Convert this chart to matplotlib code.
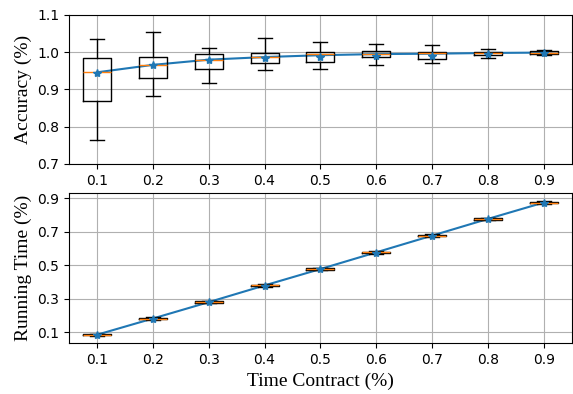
import matplotlib
matplotlib.use('Agg')
import matplotlib.pyplot as plt

# x categories (time contract)
labels = ['0.1', '0.2', '0.3', '0.4', '0.5', '0.6', '0.7', '0.8', '0.9']
pos = list(range(1, 10))

# accuracy box stats
acc_whislo = [0.764, 0.883, 0.918, 0.953, 0.955, 0.967, 0.971, 0.985, 0.993]
acc_q1 = [0.868, 0.931, 0.955, 0.970, 0.975, 0.986, 0.983, 0.993, 0.995]
acc_med = [0.946, 0.966, 0.980, 0.987, 0.994, 0.995, 0.997, 0.998, 0.999]
acc_q3 = [0.985, 0.988, 0.995, 0.998, 1.000, 1.002, 1.000, 1.001, 1.002]
acc_whishi = [1.036, 1.054, 1.010, 1.037, 1.027, 1.021, 1.019, 1.008, 1.005]
acc_mean = [0.945, 0.965, 0.978, 0.985, 0.986, 0.991, 0.991, 0.996, 0.998]
acc_line = [0.946, 0.966, 0.980, 0.987, 0.992, 0.995, 0.996, 0.998, 0.999]

# running time box stats
rt_med = [0.085, 0.182, 0.280, 0.380, 0.478, 0.578, 0.678, 0.778, 0.875]
rt_q1 = [0.081, 0.178, 0.276, 0.376, 0.474, 0.574, 0.674, 0.774, 0.871]
rt_q3 = [0.088, 0.186, 0.284, 0.384, 0.482, 0.582, 0.682, 0.782, 0.879]
rt_whislo = [0.077, 0.174, 0.272, 0.372, 0.470, 0.570, 0.670, 0.770, 0.867]
rt_whishi = [0.092, 0.190, 0.288, 0.388, 0.486, 0.586, 0.686, 0.786, 0.883]
rt_mean = [0.083, 0.180, 0.278, 0.378, 0.476, 0.576, 0.676, 0.776, 0.873]
rt_line = [0.085, 0.182, 0.280, 0.380, 0.478, 0.578, 0.678, 0.778, 0.876]


def make_stats(lo, q1, med, q3, hi, mean):
    return [dict(whislo=a, q1=b, med=c, q3=d, whishi=e, mean=f, fliers=[])
            for a, b, c, d, e, f in zip(lo, q1, med, q3, hi, mean)]


meanprops = dict(marker='*', markerfacecolor='C0', markeredgecolor='C0',
                 markersize=6)
label_font = dict(family='Liberation Serif', size=14)

fig = plt.figure(figsize=(5.73, 3.94), dpi=100)
ax1 = fig.add_axes([0.1204, 0.5838, 0.8776, 0.3782])
ax2 = fig.add_axes([0.1204, 0.1287, 0.8776, 0.3803])

ax1.bxp(make_stats(acc_whislo, acc_q1, acc_med, acc_q3, acc_whishi, acc_mean),
        positions=pos, showmeans=True, meanprops=meanprops)
ax1.plot(pos, acc_line, color='C0', zorder=1)
ax1.set_ylim(0.7, 1.1)
ax1.set_yticks([0.7, 0.8, 0.9, 1.0, 1.1])
ax1.set_xticks(pos)
ax1.set_xticklabels(labels)
ax1.set_xlim(0.5, 9.5)
ax1.grid(True)
ax1.set_axisbelow(True)
ax1.set_ylabel('Accuracy (%)', fontdict=label_font)

ax2.bxp(make_stats(rt_whislo, rt_q1, rt_med, rt_q3, rt_whishi, rt_mean),
        positions=pos, showmeans=True, meanprops=meanprops)
ax2.plot(pos, rt_line, color='C0', zorder=1)
ax2.set_ylim(0.034, 0.93)
ax2.set_yticks([0.1, 0.3, 0.5, 0.7, 0.9])
ax2.set_xticks(pos)
ax2.set_xticklabels(labels)
ax2.set_xlim(0.5, 9.5)
ax2.grid(True)
ax2.set_axisbelow(True)
ax2.set_ylabel('Running Time (%)', fontdict=label_font)
ax2.set_xlabel('Time Contract (%)', fontdict=label_font)

fig.savefig('out.png', dpi=100)
